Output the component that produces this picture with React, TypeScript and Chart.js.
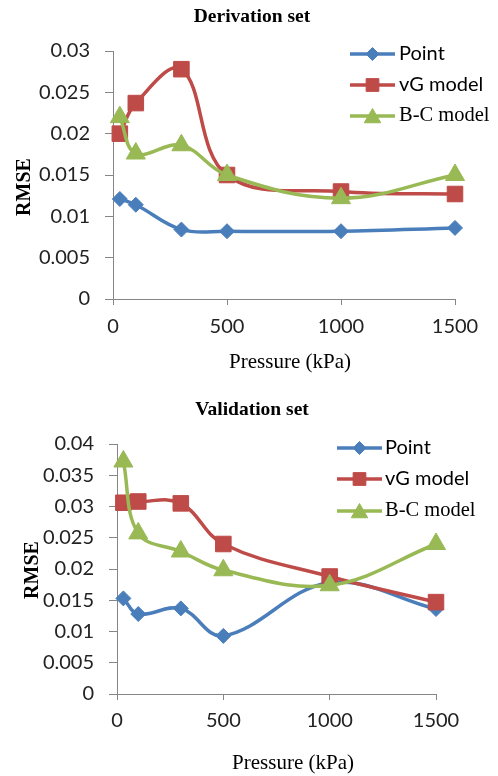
import React, { useEffect, useRef } from 'react';
import { Chart, registerables } from 'chart.js';
import { drawPoint } from 'chart.js/helpers';

Chart.register(...registerables);

// ---------- data ----------
const pressure = [30, 100, 300, 500, 1000, 1500];
const seriesLabels = ['Point', 'vG model', 'B-C model'];

const derivPoint = [0.0121, 0.0114, 0.0084, 0.0082, 0.0082, 0.0086];
const derivVG = [0.0200, 0.0237, 0.0278, 0.0150, 0.0130, 0.0127];
const derivBC = [0.0220, 0.0176, 0.0186, 0.0150, 0.0122, 0.0150];

const valPoint = [0.0153, 0.0128, 0.0137, 0.0093, 0.0178, 0.0136];
const valVG = [0.0306, 0.0308, 0.0305, 0.0240, 0.0188, 0.0147];
const valBC = [0.0372, 0.0257, 0.0228, 0.0198, 0.0174, 0.0240];

const xTickLabels = ['0', '500', '1000', '1500'];
const yTickLabelsDeriv = ['0', '0.005', '0.01', '0.015', '0.02', '0.025', '0.03'];
const yTickLabelsVal = ['0', '0.005', '0.01', '0.015', '0.02', '0.025', '0.03', '0.035', '0.04'];

// ---------- styles ----------
const BLUE = '#4A7EBB';
const RED = '#BE4B48';
const GREEN = '#98B954';
const AXIS = '#868686';
const SERIF = '"Liberation Serif", "Times New Roman", serif';
const SANS = 'Lato, "Open Sans", sans-serif';

const decorPlugin = {
  id: 'decor',
  afterDraw(chart: any, _args: any, o: any) {
    const ctx = chart.ctx as CanvasRenderingContext2D;
    ctx.save();
    ctx.fillStyle = '#000';
    ctx.textAlign = 'center';
    ctx.textBaseline = 'middle';
    ctx.font = `bold 19.5px ${SERIF}`;
    ctx.fillText(o.title, o.titleX, o.titleY);
    ctx.font = `21px ${SERIF}`;
    ctx.fillText('Pressure (kPa)', o.xTitleX, o.xTitleY);
    ctx.save();
    ctx.translate(o.yTitleX, o.yTitleY);
    ctx.rotate(-Math.PI / 2);
    ctx.font = `bold 20px ${SERIF}`;
    ctx.fillText('RMSE', 0, 0);
    ctx.restore();

    const fonts = [`20px ${SANS}`, `20px ${SANS}`, `20.5px ${SERIF}`];
    const radii = [6.5, 9, 9.5];
    chart.data.datasets.forEach((ds: any, i: number) => {
      const y = o.legendY[i];
      ctx.strokeStyle = ds.borderColor;
      ctx.lineWidth = 3.5;
      ctx.beginPath();
      ctx.moveTo(o.legendX0, y);
      ctx.lineTo(o.legendX1, y);
      ctx.stroke();
      ctx.fillStyle = ds.backgroundColor;
      ctx.lineWidth = 1;
      drawPoint(ctx, { pointStyle: ds.pointStyle, radius: radii[i], rotation: 0, borderWidth: 1 } as any,
        (o.legendX0 + o.legendX1) / 2, y + (ds.pointStyle === 'triangle' ? 2 : 0));
      ctx.fillStyle = '#000';
      ctx.textAlign = 'left';
      ctx.textBaseline = 'middle';
      ctx.font = fonts[i];
      ctx.fillText(ds.label, o.legendText, y);
    });
    ctx.restore();
  },
};

function makeDatasets(p: number[], vg: number[], bc: number[]) {
  const mk = (label: string, vals: number[], color: string, style: string, r: number, order: number) => ({
    label,
    data: pressure.map((x, i) => ({ x, y: vals[i] })),
    borderColor: color,
    backgroundColor: color,
    pointBackgroundColor: color,
    pointBorderColor: color,
    pointStyle: style,
    pointRadius: r,
    pointBorderWidth: 1,
    borderWidth: 3.5,
    tension: 0.38,
    order,
    clip: false as any,
  });
  return [
    mk(seriesLabels[0], p, BLUE, 'rectRot', 7.5, 3),
    mk(seriesLabels[1], vg, RED, 'rect', 11, 2),
    mk(seriesLabels[2], bc, GREEN, 'triangle', 11, 1),
  ];
}

interface Geo {
  height: number;
  left: number; right: number; top: number; bottom: number;
  yMax: number;
  yLabels: string[];
  yPad: number; xPad: number;
  decor: any;
}

function RmseChart({ datasets, geo }: { datasets: any[]; geo: Geo }) {
  const ref = useRef<HTMLCanvasElement>(null);
  useEffect(() => {
    if (!ref.current) return;
    const chart = new Chart(ref.current, {
      type: 'line',
      data: { datasets },
      plugins: [decorPlugin as any],
      options: {
        responsive: false,
        animation: false,
        devicePixelRatio: 1,
        layout: { padding: { top: geo.top, right: 498 - geo.right, left: 0, bottom: 0 } },
        plugins: {
          legend: { display: false },
          tooltip: { enabled: false },
          title: { display: false },
          decor: geo.decor,
        } as any,
        scales: {
          x: {
            type: 'linear',
            min: 0,
            max: 1500,
            afterFit: (s: any) => { s.height = geo.height - geo.bottom; },
            ticks: {
              stepSize: 500,
              maxRotation: 0,
              padding: geo.xPad,
              color: '#222',
              font: { family: SANS, size: 20 },
              callback: (v: any) => xTickLabels.find((l) => Math.abs(Number(l) - v) < 1e-6) ?? '',
            },
            grid: { drawOnChartArea: false, drawTicks: true, tickLength: 6, color: AXIS, lineWidth: 1 },
            border: { display: true, color: AXIS, width: 1 },
          },
          y: {
            type: 'linear',
            min: 0,
            max: geo.yMax,
            afterFit: (s: any) => { s.width = geo.left; },
            ticks: {
              stepSize: 0.005,
              padding: geo.yPad,
              color: '#222',
              font: { family: SANS, size: 20 },
              callback: (v: any) => geo.yLabels.find((l) => Math.abs(Number(l) - v) < 1e-9) ?? '',
            },
            grid: { drawOnChartArea: false, drawTicks: true, tickLength: 8, color: AXIS, lineWidth: 1 },
            border: { display: true, color: AXIS, width: 1 },
          },
        },
      } as any,
    });
    return () => chart.destroy();
  }, []);
  return <canvas ref={ref} width={498} height={geo.height} style={{ display: 'block' }} />;
}

const topGeo: Geo = {
  height: 390,
  left: 113, right: 455, top: 51, bottom: 299,
  yMax: 0.03,
  yLabels: yTickLabelsDeriv,
  yPad: 15, xPad: 10,
  decor: {
    title: 'Derivation set', titleX: 252, titleY: 17,
    xTitleX: 290, xTitleY: 362,
    yTitleX: 25, yTitleY: 187,
    legendX0: 350, legendX1: 395, legendText: 399,
    legendY: [54, 85, 116],
  },
};

const bottomGeo: Geo = {
  height: 386,
  left: 117, right: 436, top: 54, bottom: 304,
  yMax: 0.04,
  yLabels: yTickLabelsVal,
  yPad: 15, xPad: 9,
  decor: {
    title: 'Validation set', titleX: 252, titleY: 20,
    xTitleX: 293, xTitleY: 373,
    yTitleX: 33, yTitleY: 180,
    legendX0: 337, legendX1: 382, legendText: 385,
    legendY: [58, 89, 121],
  },
};

export default function App() {
  return (
    <div style={{ position: 'absolute', left: 0, top: 0, width: 498, height: 776, background: '#fff' }}>
      <RmseChart datasets={makeDatasets(derivPoint, derivVG, derivBC)} geo={topGeo} />
      <RmseChart datasets={makeDatasets(valPoint, valVG, valBC)} geo={bottomGeo} />
    </div>
  );
}
